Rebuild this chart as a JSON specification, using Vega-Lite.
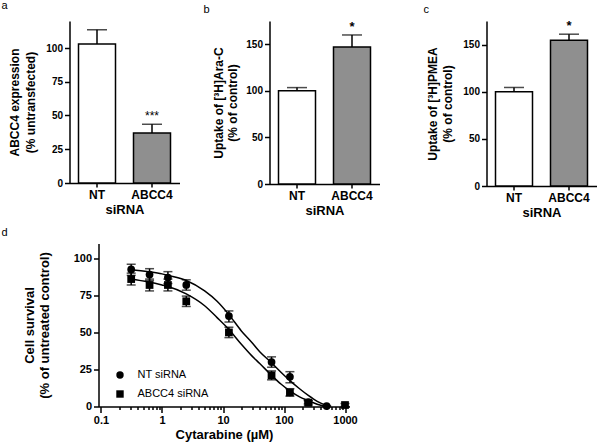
{
  "$schema": "https://vega.github.io/schema/vega-lite/v6.json",
  "padding": {"left": 1.5, "top": -1, "right": 0, "bottom": 0},
  "background": "white",
  "config": {
    "font": "Liberation Sans",
    "view": {"stroke": null},
    "axis": {
      "grid": false,
      "domainColor": "black",
      "tickColor": "black",
      "labelColor": "black",
      "titleColor": "black",
      "domainWidth": 1.5,
      "tickWidth": 1.5,
      "labelFontWeight": "bold",
      "titleFontWeight": "bold",
      "labelFont": "Liberation Sans",
      "titleFont": "Liberation Sans"
    },
    "title": {"font": "Liberation Sans", "fontSize": 11, "fontWeight": "normal", "anchor": "start", "frame": "group", "baseline": "alphabetic", "color": "black"}
  },
  "datasets": {
    "a": [
      {"group": "NT", "value": 103, "upper": 113.5, "sig": ""},
      {"group": "ABCC4", "value": 37, "upper": 43.5, "sig": "***"}
    ],
    "b": [
      {"group": "NT", "value": 100, "upper": 103.5, "sig": ""},
      {"group": "ABCC4", "value": 147, "upper": 160, "sig": "*"}
    ],
    "c": [
      {"group": "NT", "value": 100, "upper": 104.5, "sig": ""},
      {"group": "ABCC4", "value": 154.5, "upper": 161, "sig": "*"}
    ],
    "curve": [
      {"series": "NT siRNA", "conc": 0.3, "value": 92.5},
      {"series": "NT siRNA", "conc": 0.6, "value": 91},
      {"series": "NT siRNA", "conc": 1, "value": 89.5},
      {"series": "NT siRNA", "conc": 1.25, "value": 88.5},
      {"series": "NT siRNA", "conc": 2.5, "value": 85},
      {"series": "NT siRNA", "conc": 5, "value": 78},
      {"series": "NT siRNA", "conc": 8, "value": 71},
      {"series": "NT siRNA", "conc": 12.5, "value": 62},
      {"series": "NT siRNA", "conc": 20, "value": 51},
      {"series": "NT siRNA", "conc": 30, "value": 43},
      {"series": "NT siRNA", "conc": 40, "value": 37},
      {"series": "NT siRNA", "conc": 62.5, "value": 29.5},
      {"series": "NT siRNA", "conc": 90, "value": 23},
      {"series": "NT siRNA", "conc": 125, "value": 17.5},
      {"series": "NT siRNA", "conc": 180, "value": 12},
      {"series": "NT siRNA", "conc": 250, "value": 7.5},
      {"series": "NT siRNA", "conc": 350, "value": 3.5},
      {"series": "NT siRNA", "conc": 500, "value": 0.7},
      {"series": "NT siRNA", "conc": 560, "value": 0},
      {"series": "ABCC4 siRNA", "conc": 0.3, "value": 86},
      {"series": "ABCC4 siRNA", "conc": 0.6, "value": 84},
      {"series": "ABCC4 siRNA", "conc": 1, "value": 82},
      {"series": "ABCC4 siRNA", "conc": 1.25, "value": 81},
      {"series": "ABCC4 siRNA", "conc": 2.5, "value": 76},
      {"series": "ABCC4 siRNA", "conc": 5, "value": 68},
      {"series": "ABCC4 siRNA", "conc": 8, "value": 60},
      {"series": "ABCC4 siRNA", "conc": 12.5, "value": 52},
      {"series": "ABCC4 siRNA", "conc": 20, "value": 42},
      {"series": "ABCC4 siRNA", "conc": 30, "value": 34},
      {"series": "ABCC4 siRNA", "conc": 40, "value": 29},
      {"series": "ABCC4 siRNA", "conc": 62.5, "value": 21},
      {"series": "ABCC4 siRNA", "conc": 90, "value": 15},
      {"series": "ABCC4 siRNA", "conc": 125, "value": 10.5},
      {"series": "ABCC4 siRNA", "conc": 180, "value": 6.5},
      {"series": "ABCC4 siRNA", "conc": 250, "value": 4},
      {"series": "ABCC4 siRNA", "conc": 350, "value": 1.5},
      {"series": "ABCC4 siRNA", "conc": 450, "value": 0.3},
      {"series": "ABCC4 siRNA", "conc": 500, "value": 0}
    ],
    "pts": [
      {"series": "NT siRNA", "conc": 0.3125, "value": 92.5, "lo": 88.5, "hi": 96},
      {"series": "NT siRNA", "conc": 0.625, "value": 89, "lo": 85, "hi": 93},
      {"series": "NT siRNA", "conc": 1.25, "value": 87, "lo": 83, "hi": 91},
      {"series": "NT siRNA", "conc": 2.5, "value": 82, "lo": 78.5, "hi": 85.5},
      {"series": "NT siRNA", "conc": 12.5, "value": 61, "lo": 57, "hi": 64.5},
      {"series": "NT siRNA", "conc": 62.5, "value": 30, "lo": 26.5, "hi": 33.5},
      {"series": "NT siRNA", "conc": 125, "value": 20, "lo": 16, "hi": 23.5},
      {"series": "NT siRNA", "conc": 250, "value": 3, "lo": 2, "hi": 4},
      {"series": "NT siRNA", "conc": 500, "value": 0.3, "lo": 0, "hi": 0.6},
      {"series": "ABCC4 siRNA", "conc": 0.3125, "value": 86, "lo": 82, "hi": 90},
      {"series": "ABCC4 siRNA", "conc": 0.625, "value": 82, "lo": 78, "hi": 86},
      {"series": "ABCC4 siRNA", "conc": 1.25, "value": 82, "lo": 78, "hi": 86},
      {"series": "ABCC4 siRNA", "conc": 2.5, "value": 71, "lo": 67.5, "hi": 74.5},
      {"series": "ABCC4 siRNA", "conc": 12.5, "value": 50, "lo": 46.5, "hi": 53.5},
      {"series": "ABCC4 siRNA", "conc": 62.5, "value": 21, "lo": 18, "hi": 24},
      {"series": "ABCC4 siRNA", "conc": 125, "value": 9.5, "lo": 7, "hi": 12},
      {"series": "ABCC4 siRNA", "conc": 250, "value": 2.5, "lo": 1, "hi": 4},
      {"series": "ABCC4 siRNA", "conc": 1000, "value": 1, "lo": 0, "hi": 2}
    ]
  },
  "resolve": {"legend": {"shape": "independent", "fill": "independent"}},
  "columns": 3,
  "bounds": "flush",
  "spacing": {"column": 73, "row": 57.5},
  "concat": [
    {
      "width": 127, "height": 162,
      "title": {"text": "a", "offset": 5.2, "dx": -68},
      "data": {"name": "a"},
      "encoding": {
        "x": {"field": "group", "type": "nominal", "sort": ["NT", "ABCC4"], "scale": {"paddingInner": 0, "paddingOuter": 0, "rangeMax": 110},
          "axis": {"title": "siRNA", "labelAngle": 0, "labelFontSize": 12, "titleFontSize": 13, "tickSize": 4, "labelPadding": 2, "titlePadding": 3}}
      },
      "layer": [
        {"mark": {"type": "bar", "size": 37, "stroke": "black", "strokeWidth": 1.5},
         "encoding": {
           "y": {"field": "value", "type": "quantitative", "scale": {"domain": [0, 120], "nice": false},
             "axis": {"title": ["ABCC4 expression", "(% untransfected)"], "values": [0, 25, 50, 75, 100], "labelFontSize": 10, "titleFontSize": 12, "titleLineHeight": 16, "tickSize": 5, "labelPadding": 2, "titlePadding": 8}},
           "fill": {"field": "group", "type": "nominal", "scale": {"domain": ["NT", "ABCC4"], "range": ["white", "#8f8f8f"]}, "legend": null}
         }},
        {"mark": {"type": "rule", "color": "black", "strokeWidth": 1.5},
         "encoding": {"y": {"field": "value", "type": "quantitative"}, "y2": {"field": "upper"}}},
        {"mark": {"type": "tick", "orient": "horizontal", "color": "black", "size": 20, "thickness": 1.5},
         "encoding": {"y": {"field": "upper", "type": "quantitative"}}},
        {"mark": {"type": "text", "dy": -8, "fontSize": 12, "color": "black"},
         "encoding": {"y": {"field": "upper", "type": "quantitative"}, "text": {"field": "sig"}}}
      ]
    },
    {
      "width": 127, "height": 163,
      "title": {"text": "b", "offset": 6.2, "dx": -66},
      "data": {"name": "b"},
      "encoding": {
        "x": {"field": "group", "type": "nominal", "sort": ["NT", "ABCC4"], "scale": {"paddingInner": 0, "paddingOuter": 0, "rangeMax": 110},
          "axis": {"title": "siRNA", "labelAngle": 0, "labelFontSize": 12, "titleFontSize": 13, "tickSize": 4, "labelPadding": 2, "titlePadding": 3}}
      },
      "layer": [
        {"mark": {"type": "bar", "size": 37, "stroke": "black", "strokeWidth": 1.5},
         "encoding": {
           "y": {"field": "value", "type": "quantitative", "scale": {"domain": [0, 175], "nice": false},
             "axis": {"title": ["Uptake of [³H]Ara-C", "(% of control)"], "values": [0, 50, 100, 150], "labelFontSize": 10, "titleFontSize": 12, "titleLineHeight": 14, "tickSize": 5, "labelPadding": 2, "titlePadding": 6}},
           "fill": {"field": "group", "type": "nominal", "scale": {"domain": ["NT", "ABCC4"], "range": ["white", "black"]}, "legend": null}
         }},
        {"mark": {"type": "rule", "color": "black", "strokeWidth": 1.5},
         "encoding": {"y": {"field": "value", "type": "quantitative"}, "y2": {"field": "upper"}}},
        {"mark": {"type": "tick", "orient": "horizontal", "color": "black", "size": 20, "thickness": 1.5},
         "encoding": {"y": {"field": "upper", "type": "quantitative"}}},
        {"mark": {"type": "text", "dy": -8, "fontSize": 13, "fontWeight": "bold", "color": "black"},
         "encoding": {"y": {"field": "upper", "type": "quantitative"}, "text": {"field": "sig"}}}
      ]
    },
    {
      "width": 127, "height": 165,
      "title": {"text": "c", "offset": 5.2, "dx": -46},
      "data": {"name": "c"},
      "encoding": {
        "x": {"field": "group", "type": "nominal", "sort": ["NT", "ABCC4"], "scale": {"paddingInner": 0, "paddingOuter": 0, "rangeMin": 17, "rangeMax": 127},
          "axis": {"title": "siRNA", "labelAngle": 0, "labelFontSize": 12, "titleFontSize": 13, "tickSize": 4, "labelPadding": 2, "titlePadding": 3}}
      },
      "layer": [
        {"mark": {"type": "bar", "size": 37, "stroke": "black", "strokeWidth": 1.5},
         "encoding": {
           "y": {"field": "value", "type": "quantitative", "scale": {"domain": [0, 175], "nice": false},
             "axis": {"title": ["Uptake of [³H]PMEA", "(% of control)"], "values": [0, 50, 100, 150], "offset": -17, "labelFontSize": 10, "titleFontSize": 12, "titleLineHeight": 15, "tickSize": 5, "labelPadding": 2, "titlePadding": 8}},
           "fill": {"field": "group", "type": "nominal", "scale": {"domain": ["NT", "ABCC4"], "range": ["white", "#8f8f8f"]}, "legend": null}
         }},
        {"mark": {"type": "rule", "color": "black", "strokeWidth": 1.5},
         "encoding": {"y": {"field": "value", "type": "quantitative"}, "y2": {"field": "upper"}}},
        {"mark": {"type": "tick", "orient": "horizontal", "color": "black", "size": 20, "thickness": 1.5},
         "encoding": {"y": {"field": "upper", "type": "quantitative"}}},
        {"mark": {"type": "text", "dy": -8, "fontSize": 13, "fontWeight": "bold", "color": "black"},
         "encoding": {"y": {"field": "upper", "type": "quantitative"}, "text": {"field": "sig"}}}
      ]
    },
    {
      "width": 127, "height": 163,
      "title": {"text": "d", "offset": 6, "dx": -68},
      "layer": [
        {"data": {"name": "curve"},
         "mark": {"type": "line", "color": "black", "strokeWidth": 1.5, "interpolate": "monotone", "clip": false},
         "encoding": {
           "x": {"field": "conc", "type": "quantitative", "scale": {"type": "log", "domain": [0.091, 1185], "nice": false, "rangeMin": 29, "rangeMax": 280},
             "axis": {"title": "Cytarabine (µM)", "format": "~g", "labelOverlap": false,
               "values": [0.1, 0.2, 0.3, 0.4, 0.5, 0.6, 0.7, 0.8, 0.9, 1, 2, 3, 4, 5, 6, 7, 8, 9, 10, 20, 30, 40, 50, 60, 70, 80, 90, 100, 200, 300, 400, 500, 600, 700, 800, 900, 1000],
               "labelExpr": "(datum.value == 0.1 || datum.value == 1 || datum.value == 10 || datum.value == 100 || datum.value == 1000) ? datum.label : ''",
               "tickSize": {"condition": {"test": "datum.value == 0.1 || datum.value == 1 || datum.value == 10 || datum.value == 100 || datum.value == 1000", "value": 6}, "value": 3},
               "labelFontSize": 11, "titleFontSize": 13, "labelPadding": 2, "titlePadding": 3}},
           "y": {"field": "value", "type": "quantitative", "scale": {"domain": [0, 110], "nice": false},
             "axis": {"title": ["Cell survival", "(% of untreated control)"], "values": [0, 25, 50, 75, 100], "offset": -29, "labelFontSize": 11, "titleFontSize": 13, "titleLineHeight": 15, "tickSize": 5, "labelPadding": 2, "titlePadding": 22}},
           "detail": {"field": "series"}
         }},
        {"data": {"name": "pts"},
         "mark": {"type": "rule", "color": "black", "strokeWidth": 1.5},
         "encoding": {
           "x": {"field": "conc", "type": "quantitative"},
           "y": {"field": "lo", "type": "quantitative"},
           "y2": {"field": "hi"}
         }},
        {"data": {"name": "pts"},
         "mark": {"type": "tick", "orient": "horizontal", "color": "black", "size": 9, "thickness": 1.5},
         "encoding": {"x": {"field": "conc", "type": "quantitative"}, "y": {"field": "lo", "type": "quantitative"}}},
        {"data": {"name": "pts"},
         "mark": {"type": "tick", "orient": "horizontal", "color": "black", "size": 9, "thickness": 1.5},
         "encoding": {"x": {"field": "conc", "type": "quantitative"}, "y": {"field": "hi", "type": "quantitative"}}},
        {"data": {"name": "pts"},
         "mark": {"type": "point", "filled": true, "color": "black", "opacity": 1, "size": 60},
         "encoding": {
           "x": {"field": "conc", "type": "quantitative"},
           "y": {"field": "value", "type": "quantitative"},
           "shape": {"field": "series", "type": "nominal",
             "scale": {"domain": ["NT siRNA", "ABCC4 siRNA"], "range": ["circle", "square"]},
             "legend": {"orient": "none", "legendX": 45, "legendY": 126, "title": null, "labelFontSize": 11, "labelColor": "black",
               "symbolFillColor": "black", "symbolStrokeColor": "black", "symbolSize": 55, "rowPadding": 4, "labelOffset": 12}}
         }}
      ]
    }
  ]
}
